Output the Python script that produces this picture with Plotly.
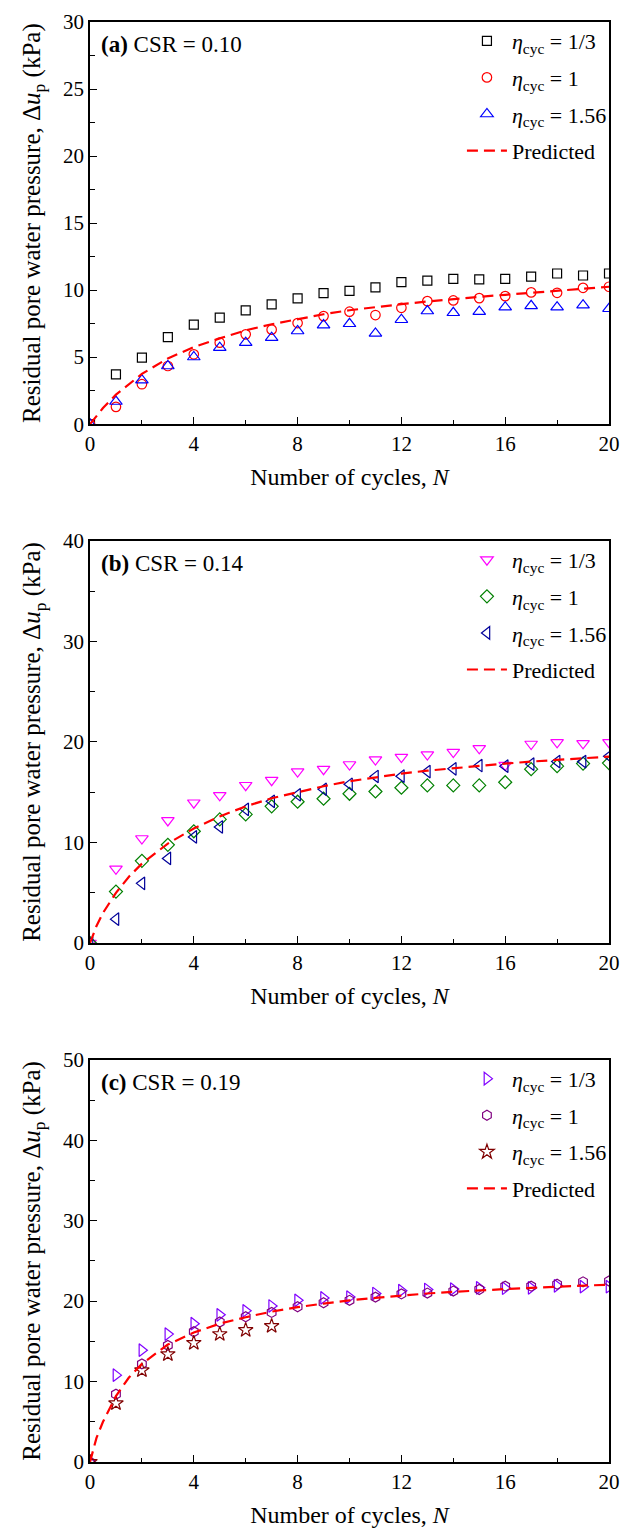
import plotly.graph_objects as go

# ---------------- data ----------------
N = list(range(0, 21))
N_c3 = list(range(0, 8))
N_pred = [0, 0.25, 0.5, 1, 1.5, 2, 3, 4, 5, 6, 7, 8, 9, 10, 11, 12, 13, 14, 15, 16, 17, 18, 19, 20]

# Panel (a) CSR = 0.10
a_eta13 = [0, 3.72, 4.96, 6.50, 7.42, 7.94, 8.49, 8.93, 9.38, 9.78, 9.95, 10.2, 10.6, 10.7, 10.84, 10.8, 10.84, 11.0, 11.24, 11.09, 11.24]
a_eta1 = [0, 1.29, 2.98, 4.34, 5.21, 6.08, 6.70, 7.05, 7.54, 8.06, 8.39, 8.14, 8.68, 9.18, 9.23, 9.40, 9.55, 9.83, 9.80, 10.17, 10.25]
a_eta156 = [0, 1.69, 3.28, 4.34, 5.01, 5.71, 6.08, 6.45, 6.95, 7.39, 7.49, 6.77, 7.79, 8.44, 8.31, 8.39, 8.73, 8.83, 8.73, 8.88, 8.61]
a_pred = [0, 0.6, 1.2, 2.2, 3.0, 3.75, 4.9, 5.75, 6.4, 7.0, 7.45, 7.85, 8.2, 8.5, 8.75, 8.95, 9.15, 9.35, 9.5, 9.65, 9.8, 9.95, 10.1, 10.25]

# Panel (b) CSR = 0.14
b_eta13 = [0, 7.39, 10.4, 12.2, 13.96, 14.7, 15.7, 16.2, 17.06, 17.3, 17.76, 18.25, 18.5, 18.75, 19.0, 19.37, 17.7, 19.8, 19.97, 19.87, 19.97]
b_eta1 = [0, 5.12, 8.18, 9.77, 11.12, 12.3, 12.8, 13.6, 14.06, 14.36, 14.85, 15.08, 15.45, 15.68, 15.68, 15.68, 16.0, 17.3, 17.6, 17.85, 17.9]
b_eta156 = [0, 2.38, 5.94, 8.42, 10.56, 11.55, 13.3, 14.1, 14.75, 15.3, 15.8, 16.57, 16.6, 17.06, 17.33, 17.66, 17.6, 17.8, 18.05, 18.05, 18.58]
b_pred = [0, 1.7, 3.0, 5.0, 6.6, 7.9, 9.9, 11.4, 12.6, 13.6, 14.4, 15.0, 15.6, 16.1, 16.5, 16.85, 17.15, 17.4, 17.65, 17.85, 18.05, 18.2, 18.4, 18.55]

# Panel (c) CSR = 0.19
c_eta13 = [0, 10.8, 13.9, 15.9, 17.2, 18.3, 18.8, 19.4, 20.1, 20.4, 20.5, 20.95, 21.3, 21.45, 21.5, 21.65, 21.6, 21.65, 21.9, 21.8, 21.8]
c_eta1 = [0, 8.43, 12.2, 14.5, 16.2, 17.4, 18.06, 18.6, 19.3, 19.8, 20.1, 20.5, 20.9, 21.0, 21.25, 21.45, 21.86, 21.86, 22.1, 22.4, 22.5]
c_eta156 = [0, 7.3, 11.4, 13.4, 14.8, 15.9, 16.4, 16.9]
c_pred = [0, 3.0, 5.0, 8.2, 10.5, 12.2, 14.6, 16.1, 17.2, 18.0, 18.7, 19.25, 19.7, 20.1, 20.4, 20.7, 20.95, 21.15, 21.35, 21.5, 21.65, 21.8, 21.95, 22.05]

labels = ["<i>η</i><sub>cyc</sub> = 1/3", "<i>η</i><sub>cyc</sub> = 1", "<i>η</i><sub>cyc</sub> = 1.56", "Predicted"]
panel_titles = ["<b>(a)</b> CSR = 0.10", "<b>(b)</b> CSR = 0.14", "<b>(c)</b> CSR = 0.19"]
y_ranges = [30, 40, 50]
y_dticks = [5, 10, 10]
x_ticks = [0, 4, 8, 12, 16, 20]

# ---------------- layout geometry ----------------
W, H = 630, 1534
ML, MR, MT, MB = 90, 10, 20, 71
PW, PH = W - ML - MR, H - MT - MB
panel_top = [20, 540, 1060]
panel_h = 403

def py(px):  # pixel y -> paper y
    return (H - MB - px) / PH

def pxx(px):  # pixel x -> paper x
    return (px - ML) / PW

FONT = "Liberation Serif"

fig = go.Figure()

panels = [
    (N, [a_eta13, a_eta1, a_eta156], a_pred,
     [("square-open", "#000000", 9), ("circle-open", "#FF0000", 9.5), ("triangle-up-open", "#0000FF", 11)]),
    (N, [b_eta13, b_eta1, b_eta156], b_pred,
     [("triangle-down-open", "#FF00FF", 11), ("diamond-open", "#008000", 10), ("triangle-left-open", "#000099", 11)]),
    (N, [c_eta13, c_eta1, c_eta156], c_pred,
     [("triangle-right-open", "#8000FF", 11), ("hexagon-open", "#800080", 10), ("star-open", "#800000", 11)]),
]

for i, (xs, series, pred, styles) in enumerate(panels):
    sfx = "" if i == 0 else str(i + 1)
    leg = "legend" + sfx
    for j, (ys, (sym, col, sz)) in enumerate(zip(series, styles)):
        xv = N_c3 if (i == 2 and j == 2) else xs
        fig.add_trace(go.Scatter(
            x=xv, y=ys, mode="markers", name=labels[j],
            marker=dict(symbol=sym, size=sz, color=col, line=dict(color=col, width=1.2)),
            xaxis="x" + sfx, yaxis="y" + sfx, legend=leg, legendgroup=f"p{i}s{j}",
        ))
    fig.add_trace(go.Scatter(
        x=N_pred, y=pred, mode="lines", name=labels[3],
        line=dict(color="#FF0000", width=2.2, dash="11px,6px"),
        xaxis="x" + sfx, yaxis="y" + sfx, legend=leg, legendgroup=f"p{i}pred",
    ))

layout = dict(
    width=W, height=H,
    margin=dict(l=ML, r=MR, t=MT, b=MB),
    paper_bgcolor="white", plot_bgcolor="white",
    font=dict(family=FONT, size=20, color="black"),
    showlegend=True,
    annotations=[],
)

for i in range(3):
    sfx = "" if i == 0 else str(i + 1)
    top = panel_top[i]
    bot = top + panel_h
    dom = [py(bot), py(top)]
    layout["xaxis" + sfx] = dict(
        domain=[0, 1], anchor="y" + sfx, range=[0, 20],
        tickvals=x_ticks, ticks="inside", ticklen=7, tickwidth=1.3, tickcolor="black",
        minor=dict(dtick=2, ticks="inside", ticklen=4, tickwidth=1.3, tickcolor="black"),
        showline=True, linecolor="black", linewidth=1.6, mirror=True,
        showgrid=False, zeroline=False,
        tickfont=dict(family=FONT, size=21),
        title=dict(text="Number of cycles, <i>N</i>", font=dict(family=FONT, size=24), standoff=13),
    )
    layout["yaxis" + sfx] = dict(
        domain=dom, anchor="x" + sfx, range=[0, y_ranges[i]],
        dtick=y_dticks[i], ticks="inside", ticklen=7, tickwidth=1.3, tickcolor="black",
        minor=dict(dtick=y_dticks[i] / 2, ticks="inside", ticklen=5, tickwidth=1.3, tickcolor="black"),
        showline=True, linecolor="black", linewidth=1.6, mirror=True,
        showgrid=False, zeroline=False,
        tickfont=dict(family=FONT, size=21),
        title=dict(text="Residual pore water pressure, Δ<i>u</i><sub>p</sub> (kPa)",
                   font=dict(family=FONT, size=25), standoff=15),
    )
    layout["legend" + sfx] = dict(
        x=pxx(623), xanchor="right", y=py(top - 2), yanchor="top",
        bgcolor="rgba(0,0,0,0)", borderwidth=0,
        font=dict(family=FONT, size=22, color="black"),
        tracegroupgap=5, itemwidth=40,
    )
    layout["annotations"].append(dict(
        text=panel_titles[i], xref="paper", yref="paper",
        x=pxx(99), y=py(top + 23), xanchor="left", yanchor="middle",
        showarrow=False, font=dict(family=FONT, size=23, color="black"),
    ))

fig.update_layout(**layout)
fig.write_html("out.html")
